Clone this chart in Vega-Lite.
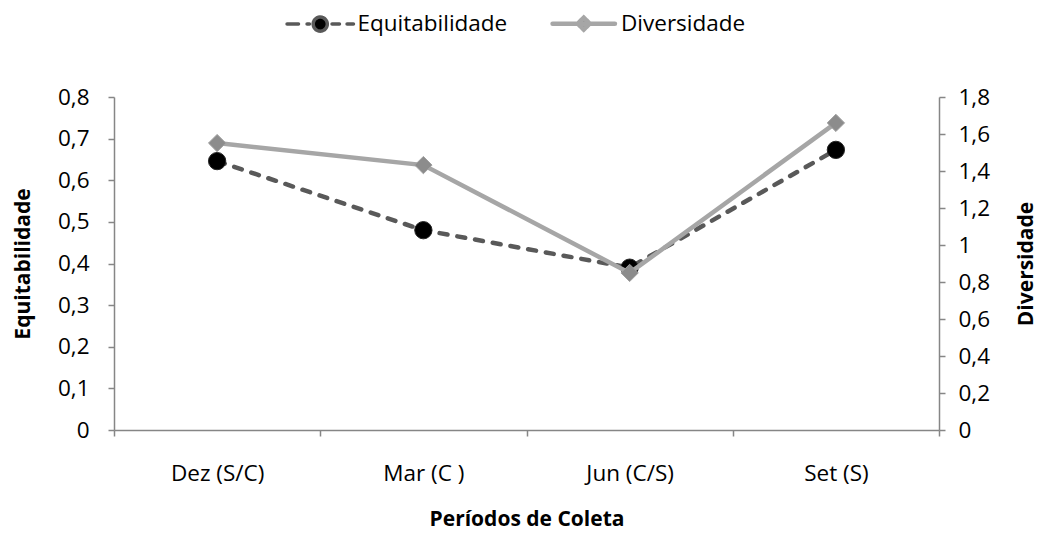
{
  "$schema": "https://vega.github.io/schema/vega-lite/v6.json",
  "width": 825,
  "height": 333,
  "autosize": {"type": "none"},
  "padding": {"left": 114, "top": 97, "right": 103, "bottom": 104},
  "background": "white",
  "config": {
    "view": {"stroke": null},
    "font": "Open Sans",
    "axis": {
      "labelFont": "Open Sans",
      "titleFont": "Open Sans",
      "labelFontSize": 22.5,
      "titleFontSize": 21,
      "titleFontWeight": "bold",
      "labelColor": "#000000",
      "titleColor": "#000000",
      "domainColor": "#868686",
      "tickColor": "#868686",
      "domainWidth": 1.5,
      "tickWidth": 1.5,
      "tickSize": 6,
      "grid": false
    }
  },
  "data": {
    "values": [
      {"periodo": "Dez (S/C)", "serie": "Equitabilidade", "valor": 0.646},
      {"periodo": "Mar (C )", "serie": "Equitabilidade", "valor": 0.48},
      {"periodo": "Jun (C/S)", "serie": "Equitabilidade", "valor": 0.39},
      {"periodo": "Set (S)", "serie": "Equitabilidade", "valor": 0.673},
      {"periodo": "Dez (S/C)", "serie": "Diversidade", "valor": 1.551},
      {"periodo": "Mar (C )", "serie": "Diversidade", "valor": 1.432},
      {"periodo": "Jun (C/S)", "serie": "Diversidade", "valor": 0.849},
      {"periodo": "Set (S)", "serie": "Diversidade", "valor": 1.66}
    ]
  },
  "encoding": {
    "x": {
      "field": "periodo",
      "type": "nominal",
      "sort": ["Dez (S/C)", "Mar (C )", "Jun (C/S)", "Set (S)"],
      "scale": {"paddingInner": 0, "paddingOuter": 0},
      "axis": {
        "title": "Períodos de Coleta",
        "labelAngle": 0,
        "tickBand": "extent",
        "labelPadding": 26,
        "titlePadding": 24
      }
    }
  },
  "layer": [
    {
      "transform": [{"filter": "datum.serie === 'Equitabilidade'"}],
      "encoding": {
        "y": {
          "field": "valor",
          "type": "quantitative",
          "scale": {"domain": [0, 0.8], "nice": false},
          "axis": {
            "title": "Equitabilidade",
            "orient": "left",
            "values": [0, 0.1, 0.2, 0.3, 0.4, 0.5, 0.6, 0.7, 0.8],
            "labelExpr": "replace(format(datum.value, '~g'), '.', ',')",
            "labelPadding": 19,
            "titlePadding": 24
          }
        }
      },
      "layer": [
        {
          "mark": {"type": "line", "strokeWidth": 4.5, "strokeDash": [8, 10], "strokeCap": "round"},
          "encoding": {
            "color": {
              "field": "serie",
              "type": "nominal",
              "scale": {"domain": ["Equitabilidade", "Diversidade"], "range": ["#595959", "#a6a6a6"]},
              "legend": {
                "orient": "none",
                "legendX": 168,
                "legendY": -85,
                "direction": "horizontal",
                "title": null,
                "padding": 0,
                "symbolSize": 256,
                "symbolOffset": 27,
                "labelOffset": 26,
                "labelFont": "Open Sans",
                "labelFontSize": 22.5,
                "labelColor": "#000000",
                "columnPadding": 35.5,
                "encode": {
                  "symbols": {
                    "update": {
                      "shape": {"signal": "datum.value === 'Equitabilidade' ? 'M-4.15,0H-2.72M-1.65,0H-1.35M1.47,0H2.4M3.35,0H4.15M0.88,0A0.88,0.88 0 1,1 -0.88,0A0.88,0.88 0 1,1 0.88,0Z' : 'M-3.9,0H3.9M0,-0.75L0.75,0L0,0.75L-0.75,0Z'"},
                      "fill": {"signal": "datum.value === 'Equitabilidade' ? '#000000' : '#8c8c8c'"},
                      "stroke": {"signal": "datum.value === 'Equitabilidade' ? '#4d4d4d' : '#a6a6a6'"},
                      "strokeWidth": {"signal": "datum.value === 'Equitabilidade' ? 3.5 : 4.5"},
                      "strokeCap": {"value": "round"},
                      "strokeDash": {"value": [1, 0]},
                      "opacity": {"value": 1}
                    }
                  }
                }
              }
            }
          }
        },
        {
          "mark": {"type": "point", "shape": "circle", "filled": true, "fill": "#000000", "stroke": "#262626", "strokeWidth": 1, "size": 300, "opacity": 1}
        }
      ]
    },
    {
      "transform": [{"filter": "datum.serie === 'Diversidade'"}],
      "encoding": {
        "y": {
          "field": "valor",
          "type": "quantitative",
          "scale": {"domain": [0, 1.8], "nice": false},
          "axis": {
            "title": "Diversidade",
            "orient": "right",
            "values": [0, 0.2, 0.4, 0.6, 0.8, 1, 1.2, 1.4, 1.6, 1.8],
            "labelExpr": "replace(format(datum.value, '~g'), '.', ',')",
            "labelPadding": 13,
            "titlePadding": 47,
            "titleAngle": 270
          }
        }
      },
      "layer": [
        {
          "mark": {"type": "line", "strokeWidth": 4.5, "strokeCap": "round"},
          "encoding": {
            "color": {
              "field": "serie",
              "type": "nominal",
              "scale": {"domain": ["Equitabilidade", "Diversidade"], "range": ["#595959", "#a6a6a6"]}
            }
          }
        },
        {
          "mark": {"type": "point", "shape": "diamond", "filled": true, "fill": "#8c8c8c", "stroke": "#a0a0a0", "strokeWidth": 1, "size": 300, "opacity": 1}
        }
      ]
    }
  ],
  "resolve": {"scale": {"y": "independent"}}
}
